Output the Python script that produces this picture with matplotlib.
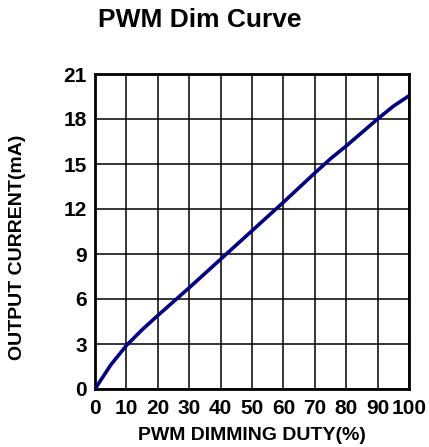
import matplotlib
matplotlib.use("Agg")
import matplotlib.pyplot as plt

duty = [0, 5, 10, 15, 20, 30, 40, 50, 60, 70, 75, 80, 90, 95, 100]
current = [0, 1.6, 2.9, 3.95, 4.9, 6.75, 8.65, 10.55, 12.45, 14.4, 15.35, 16.2, 18.0, 18.85, 19.55]
xticks = list(range(0, 101, 10))
yticks = list(range(0, 22, 3))

plt.rcParams['font.family'] = ['Liberation Sans', 'DejaVu Sans']
plt.rcParams['font.weight'] = 'bold'

fig = plt.figure(figsize=(4.29, 4.47), dpi=100)
ax = fig.add_axes([95/429, 1-389/447, 314/429, 315/447])
ax.plot(duty, current, color='#000080', lw=2.6, solid_capstyle='round', zorder=3)
ax.set_xlim(0, 100)
ax.set_ylim(0, 21)
ax.set_xticks(xticks)
ax.set_yticks(yticks)
ax.grid(True, color='black', lw=1.1)
for s in ax.spines.values():
    s.set_linewidth(2.0)
    s.set_color('black')
ax.tick_params(axis='x', length=0, labelsize=15, pad=7)
ax.tick_params(axis='y', length=0, labelsize=15, pad=6)
for lbl in ax.get_xticklabels() + ax.get_yticklabels():
    lbl.set_fontweight('bold')

fig.text(200/429, 1-20/447, 'PWM Dim Curve', ha='center', va='center', fontsize=19, fontweight='bold')
fig.text(252/429, 1-435/447, 'PWM DIMMING DUTY(%)', ha='center', va='center', fontsize=14, fontweight='bold')
fig.text(18/429, 1-247/447, 'OUTPUT CURRENT(mA)', ha='center', va='center', rotation=90, fontsize=14, fontweight='bold')

fig.savefig('out.png', dpi=100)
